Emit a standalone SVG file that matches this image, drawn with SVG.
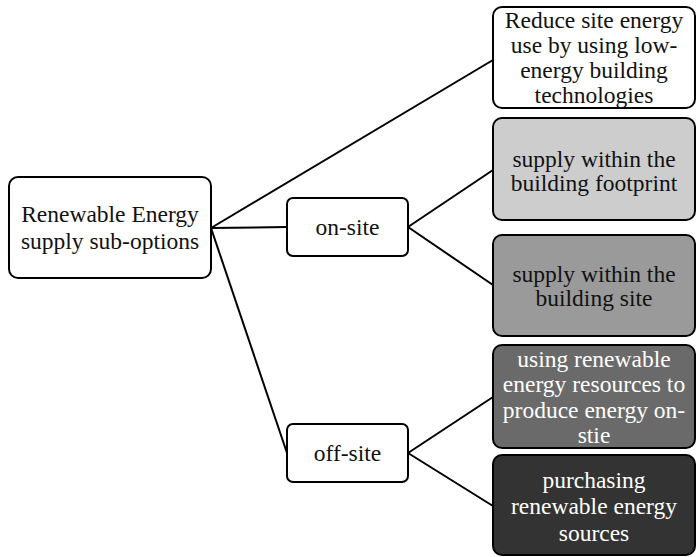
<svg xmlns="http://www.w3.org/2000/svg" width="699" height="557" viewBox="0 0 699 557">
<style>
.box{stroke:#000;stroke-width:2;}
.t{font-family:"Liberation Serif","Times New Roman",serif;font-size:23.5px;text-anchor:middle;fill:#111;}
.w{fill:#fff;}
.c{stroke:#000;stroke-width:2;fill:none;}
</style>
<rect width="699" height="557" fill="#fff"/>
<g id="connectors">
<line class="c" x1="211" y1="228" x2="493" y2="60"/>
<line class="c" x1="211" y1="228" x2="287" y2="227"/>
<line class="c" x1="211" y1="228" x2="287" y2="453"/>
<line class="c" x1="408" y1="227" x2="493" y2="170"/>
<line class="c" x1="408" y1="227" x2="493" y2="285"/>
<line class="c" x1="408" y1="453" x2="493" y2="397"/>
<line class="c" x1="408" y1="453" x2="493" y2="506"/>
</g>
<g id="root">
<rect class="box" x="9" y="177" width="202" height="101" rx="9" fill="#fff"/>
<text class="t" x="110" y="222">Renewable Energy</text>
<text class="t" x="110" y="249">supply sub-options</text>
</g>
<g id="onsite">
<rect class="box" x="287" y="198" width="121" height="58" rx="6" fill="#fff"/>
<text class="t" x="347.5" y="235">on-site</text>
</g>
<g id="offsite">
<rect class="box" x="287" y="424" width="121" height="58" rx="6" fill="#fff"/>
<text class="t" x="347.5" y="461">off-site</text>
</g>
<g id="reduce">
<rect class="box" x="493" y="7" width="202" height="101" rx="9" fill="#fff"/>
<text class="t" x="594" y="28">Reduce site energy</text>
<text class="t" x="594" y="53">use by using low-</text>
<text class="t" x="594" y="78">energy building</text>
<text class="t" x="594" y="103">technologies</text>
</g>
<g id="footprint">
<rect class="box" x="493" y="118" width="202" height="102" rx="9" fill="#cdcdcd"/>
<text class="t" x="594" y="167">supply within the</text>
<text class="t" x="594" y="191">building footprint</text>
</g>
<g id="site">
<rect class="box" x="493" y="235" width="202" height="101" rx="9" fill="#9a9a9a"/>
<text class="t" x="594" y="282">supply within the</text>
<text class="t" x="594" y="306">building site</text>
</g>
<g id="produce">
<rect class="box" x="493" y="345" width="202" height="103" rx="9" fill="#6a6a6a"/>
<text class="t w" x="594" y="367">using renewable</text>
<text class="t w" x="594" y="392">energy resources to</text>
<text class="t w" x="594" y="418">produce energy on-</text>
<text class="t w" x="594" y="443">stie</text>
</g>
<g id="purchasing">
<rect class="box" x="493" y="455" width="202" height="100" rx="9" fill="#333333"/>
<text class="t w" x="594" y="488">purchasing</text>
<text class="t w" x="594" y="514">renewable energy</text>
<text class="t w" x="594" y="541">sources</text>
</g>
</svg>
